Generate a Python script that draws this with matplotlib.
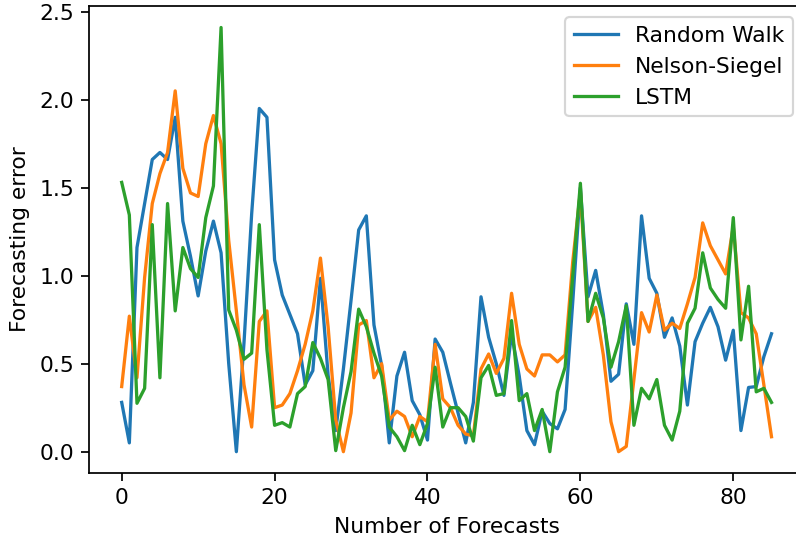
import matplotlib
matplotlib.use("Agg")
import matplotlib.pyplot as plt
import numpy as np

# Forecasting error per forecast step for each model
random_walk = [
    0.28, 0.05, 1.16, 1.41, 1.66, 1.70, 1.66, 1.90, 1.31, 1.11,
    0.885, 1.14, 1.31, 1.13, 0.50, 0.00, 0.62, 1.35, 1.95, 1.90,
    1.09, 0.89, 0.78, 0.67, 0.38, 0.46, 0.985, 0.435, 0.12, 0.47,
    0.86, 1.26, 1.34, 0.72, 0.49, 0.05, 0.43, 0.565, 0.29, 0.21,
    0.066, 0.64, 0.565, 0.39, 0.22, 0.05, 0.28, 0.88, 0.65, 0.50,
    0.32, 0.67, 0.43, 0.12, 0.04, 0.23, 0.16, 0.13, 0.24, 0.85,
    1.50, 0.88, 1.03, 0.78, 0.40, 0.44, 0.84, 0.61, 1.34, 0.985,
    0.90, 0.65, 0.76, 0.60, 0.265, 0.625, 0.73, 0.82, 0.71, 0.52,
    0.69, 0.12, 0.365, 0.37, 0.54, 0.67,
]

nelson_siegel = [
    0.37, 0.77, 0.42, 0.99, 1.41, 1.58, 1.70, 2.05, 1.61, 1.47,
    1.45, 1.75, 1.91, 1.75, 1.20, 0.80, 0.38, 0.14, 0.74, 0.80,
    0.25, 0.265, 0.33, 0.46, 0.61, 0.80, 1.10, 0.71, 0.18, 0.00,
    0.22, 0.72, 0.745, 0.42, 0.50, 0.18, 0.23, 0.20, 0.085, 0.20,
    0.17, 0.61, 0.30, 0.25, 0.15, 0.10, 0.09, 0.47, 0.555, 0.445,
    0.53, 0.90, 0.61, 0.47, 0.43, 0.55, 0.55, 0.51, 0.55, 1.08,
    1.48, 0.74, 0.82, 0.55, 0.17, 0.00, 0.03, 0.41, 0.79, 0.68,
    0.89, 0.69, 0.73, 0.70, 0.84, 0.99, 1.30, 1.17, 1.09, 1.01,
    1.28, 0.79, 0.76, 0.67, 0.38, 0.085,
]

lstm = [
    1.53, 1.345, 0.275, 0.36, 1.29, 0.42, 1.41, 0.80, 1.16, 1.04,
    0.99, 1.33, 1.51, 2.41, 0.805, 0.69, 0.525, 0.56, 1.29, 0.58,
    0.15, 0.165, 0.14, 0.33, 0.37, 0.62, 0.53, 0.41, 0.006, 0.25,
    0.455, 0.81, 0.71, 0.56, 0.43, 0.14, 0.085, 0.006, 0.15, 0.04,
    0.16, 0.48, 0.14, 0.25, 0.25, 0.20, 0.06, 0.42, 0.49, 0.32,
    0.33, 0.745, 0.29, 0.33, 0.12, 0.24, 0.00, 0.34, 0.48, 1.00,
    1.525, 0.74, 0.90, 0.76, 0.48, 0.625, 0.83, 0.15, 0.36, 0.30,
    0.41, 0.15, 0.066, 0.23, 0.73, 0.815, 1.13, 0.93, 0.865, 0.815,
    1.33, 0.635, 0.94, 0.34, 0.36, 0.28,
]

series_names = ["Random Walk", "Nelson-Siegel", "LSTM"]

steps = np.arange(len(random_walk))

DPI = 157
W, H = 796, 540

fig = plt.figure(figsize=(W / DPI, H / DPI), dpi=DPI)
# axes box in pixel terms: left 89.2, top 6.3, width 714.8, height 466.6
ax = fig.add_axes([89.2 / W, 1 - 472.9 / H, 714.8 / W, 466.6 / H])

for values, name in zip([random_walk, nelson_siegel, lstm], series_names):
    ax.plot(steps, values, label=name, linewidth=1.5)

ax.set_xlabel("Number of Forecasts")
ax.set_ylabel("Forecasting error")
ax.legend(loc="upper right")

fig.savefig("out.png", dpi=DPI)
